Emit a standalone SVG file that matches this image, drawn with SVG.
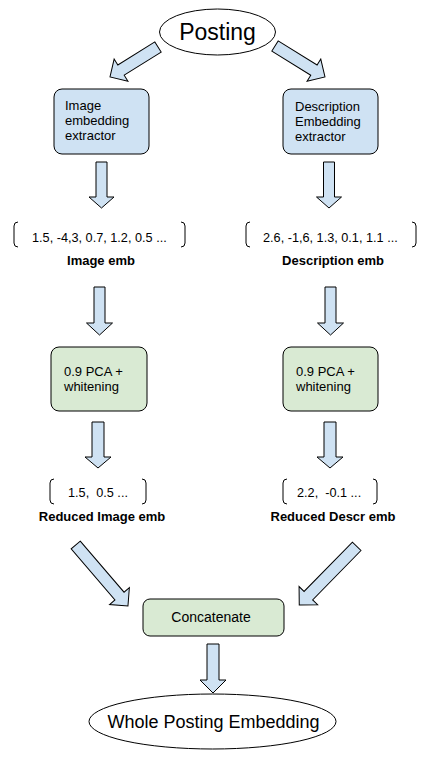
<svg xmlns="http://www.w3.org/2000/svg" width="443" height="764" viewBox="0 0 443 764">
<style>
.arrow{fill:#cfe2f3;stroke:#000;stroke-width:1;stroke-linejoin:miter}
.blue{fill:#cfe2f3;stroke:#000;stroke-width:1}
.green{fill:#d9ead3;stroke:#000;stroke-width:1}
.oval{fill:#fff;stroke:#000;stroke-width:1}
.br{fill:none;stroke:#000;stroke-width:1}
text{font-family:"Liberation Sans",Arial,sans-serif;fill:#000}
.t{font-size:13px}
.v{font-size:12.7px;white-space:pre}
.b{font-size:13px;font-weight:bold;text-anchor:middle}
</style>
<rect width="443" height="764" fill="#fff"/>
<g id="connectors">
<path class="arrow" transform="translate(158,47) rotate(148)" d="M0,-6 L43.6,-6 L43.6,-13 L56.6,0 L43.6,13 L43.6,6 L0,6 Z"/>
<path class="arrow" transform="translate(275,46) rotate(31.8)" d="M0,-6 L45.8,-6 L45.8,-13 L58.8,0 L45.8,13 L45.8,6 L0,6 Z"/>
<polygon class="arrow" points="96,162 107,162 107,197 114,197 101.5,208 89,197 96,197"/>
<polygon class="arrow" points="323.5,162 334.5,162 334.5,197 341.5,197 329,208 316.5,197 323.5,197"/>
<polygon class="arrow" points="94,287 105,287 105,323 112.5,323 99.5,335 86.5,323 94,323"/>
<polygon class="arrow" points="325,287 336,287 336,323 343.5,323 330.5,335 317.5,323 325,323"/>
<polygon class="arrow" points="92,422 104,422 104,457 111,457 98,468 85,457 92,457"/>
<polygon class="arrow" points="324,422 336,422 336,457 343,457 330,468 317,457 324,457"/>
<path class="arrow" transform="translate(75.7,545) rotate(49.4)" d="M0,-6 L67.3,-6 L67.3,-13 L80.3,0 L67.3,13 L67.3,6 L0,6 Z"/>
<path class="arrow" transform="translate(356.7,546.3) rotate(134.4)" d="M0,-6 L69.1,-6 L69.1,-13 L82.1,0 L69.1,13 L69.1,6 L0,6 Z"/>
<polygon class="arrow" points="207,644 219,644 219,680 226,680 213,693 200,680 207,680"/>
</g>
<g id="posting">
<ellipse class="oval" cx="217.5" cy="32" rx="58" ry="23"/>
<text x="217.5" y="40" font-size="23" text-anchor="middle">Posting</text>
</g>
<g id="image-extractor">
<rect class="blue" x="54" y="89" width="95" height="65" rx="8"/>
<text class="t" x="65" y="110">Image</text>
<text class="t" x="65" y="125">embedding</text>
<text class="t" x="65" y="140">extractor</text>
</g>
<g id="desc-extractor">
<rect class="blue" x="283" y="89" width="95" height="65" rx="8"/>
<text class="t" x="295" y="111">Description</text>
<text class="t" x="295" y="126">Embedding</text>
<text class="t" x="295" y="141">extractor</text>
</g>
<g id="image-emb">
<path class="br" d="M18,222 Q14,222 14,226 L14,243 Q14,247 18,247"/>
<path class="br" d="M181,222 Q185,222 185,226 L185,243 Q185,247 181,247"/>
<text class="v" x="32" y="242">1.5, -4,3, 0.7, 1.2, 0.5 ...</text>
<text class="b" x="101" y="265">Image emb</text>
</g>
<g id="desc-emb">
<path class="br" d="M250,222 Q246,222 246,226 L246,243 Q246,247 250,247"/>
<path class="br" d="M412,222 Q416,222 416,226 L416,243 Q416,247 412,247"/>
<text class="v" x="263" y="242">2.6, -1,6, 1.3, 0.1, 1.1 ...</text>
<text class="b" x="333" y="265">Description emb</text>
</g>
<g id="pca-image">
<rect class="green" x="51" y="347" width="96" height="64" rx="8"/>
<text class="t" x="64" y="376">0.9 PCA +</text>
<text class="t" x="64" y="391">whitening</text>
</g>
<g id="pca-desc">
<rect class="green" x="283" y="347" width="95" height="64" rx="8"/>
<text class="t" x="296" y="376">0.9 PCA +</text>
<text class="t" x="296" y="391">whitening</text>
</g>
<g id="reduced-image">
<path class="br" d="M54,479 Q50,479 50,483 L50,500 Q50,504 54,504"/>
<path class="br" d="M142,479 Q146,479 146,483 L146,500 Q146,504 142,504"/>
<text class="v" x="68" y="497">1.5,  0.5 ...</text>
<text class="b" x="102" y="521">Reduced Image emb</text>
</g>
<g id="reduced-desc">
<path class="br" d="M287,479 Q283,479 283,483 L283,500 Q283,504 287,504"/>
<path class="br" d="M373,479 Q377,479 377,483 L377,500 Q377,504 373,504"/>
<text class="v" x="297" y="497">2.2,  -0.1 ...</text>
<text class="b" x="333" y="521">Reduced Descr emb</text>
</g>
<g id="concatenate">
<rect class="green" x="143" y="599" width="141" height="37" rx="7"/>
<text x="211" y="622" font-size="14" text-anchor="middle">Concatenate</text>
</g>
<g id="whole">
<ellipse class="oval" cx="212.5" cy="721.5" rx="123.5" ry="27.5"/>
<text x="213.5" y="728" font-size="18" text-anchor="middle">Whole Posting Embedding</text>
</g>
</svg>
